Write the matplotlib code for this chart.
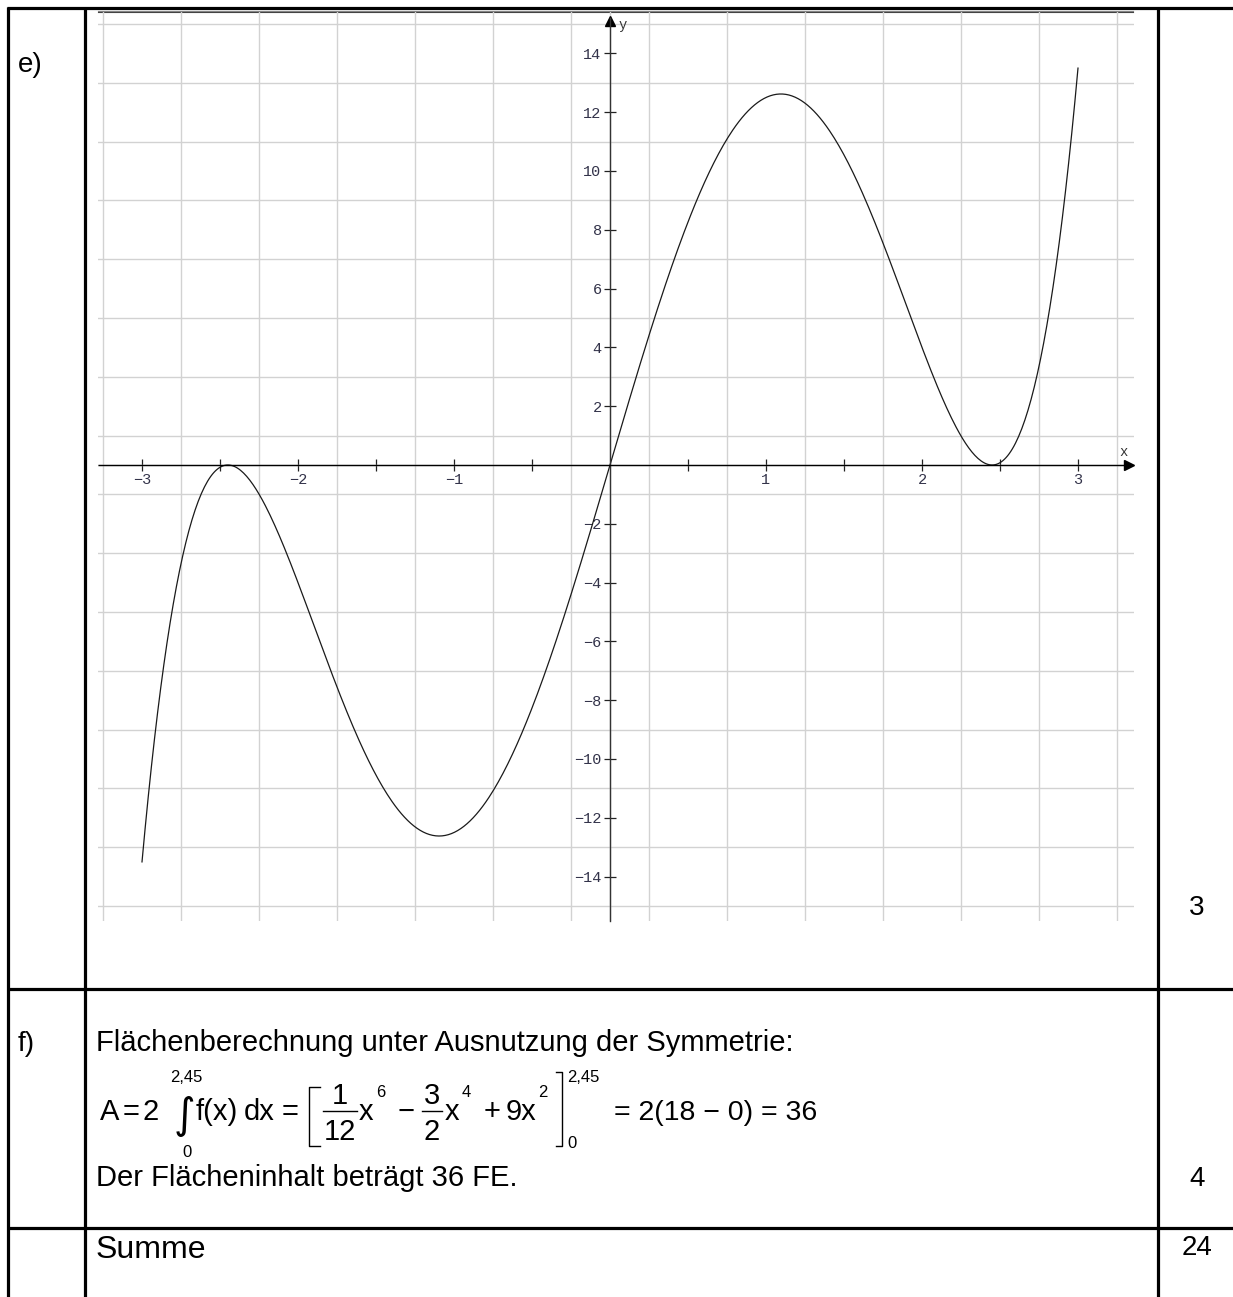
import numpy as np
import matplotlib.pyplot as plt
from matplotlib.ticker import FixedLocator, FuncFormatter

# f(x) = 1/2 x^5 - 6 x^3 + 18 x  (the derivative of the bracket shown in part f)
coeffs = [0.5, 0, -6, 0, 18, 0]
x_start, x_end = -3, 3
x_tick_vals = [-3, -2.5, -2, -1.5, -1, -0.5, 0.5, 1, 1.5, 2, 2.5, 3]
y_tick_vals = [-14, -12, -10, -8, -6, -4, -2, 2, 4, 6, 8, 10, 12, 14]
part_labels = ["e)", "f)"]
points = ["3", "4", "24"]

W, H = 1233, 1297
fig = plt.figure(figsize=(W / 100, H / 100), dpi=100)
plt.rcParams['font.family'] = ['Liberation Sans', 'DejaVu Sans']

# background axes in pixel coords for the table
bg = fig.add_axes([0, 0, 1, 1])
bg.set_xlim(0, W)
bg.set_ylim(H, 0)
bg.axis('off')

lw_tab = 2.3
for xv in [8, 85, 1158]:
    bg.plot([xv, xv], [7, H], color='black', lw=lw_tab, solid_capstyle='butt')
for yv in [8, 989, 1228]:
    bg.plot([7, W], [yv, yv], color='black', lw=lw_tab, solid_capstyle='butt')

# graph axes: x=0 at px 610 (156 px/unit), y=0 at px 465 (29.4 px/unit)
px_l, px_r, px_t, px_b = 98, 1134, 12, 920.7
ax = fig.add_axes([px_l / W, 1 - px_b / H, (px_r - px_l) / W, (px_b - px_t) / H])
ax.set_xlim((px_l - 610) / 156, (px_r - 610) / 156)
ax.set_ylim((465 - px_b) / 29.4, (465 - px_t) / 29.4)
ax.patch.set_alpha(0)

ax.xaxis.set_minor_locator(FixedLocator(np.arange(-3.25, 3.26, 0.25)))
ax.yaxis.set_minor_locator(FixedLocator(np.arange(-15, 16, 1)))
ax.grid(which='minor', color='#d2d2d2', lw=1.0)
ax.tick_params(which='minor', length=0)

for s in ['top', 'right']:
    ax.spines[s].set_visible(False)
ax.spines['left'].set_position(('data', 0))
ax.spines['bottom'].set_position(('data', 0))
ax.spines['left'].set_color('#333333')
ax.spines['left'].set_bounds(ax.get_ylim()[0], 15.2)
ax.spines['bottom'].set_bounds(ax.get_xlim()[0], 3.34)
ax.spines['bottom'].set_capstyle('butt')
ax.spines['left'].set_linewidth(1.0)
ax.spines['bottom'].set_linewidth(1.0)

ax.set_xticks(x_tick_vals)
ax.set_yticks(y_tick_vals)
ax.xaxis.set_major_formatter(FuncFormatter(
    lambda v, p: ('%d' % v).replace('-', '\u2212') if float(v).is_integer() else ''))
ax.yaxis.set_major_formatter(FuncFormatter(lambda v, p: ('%d' % v).replace('-', '\u2212')))
ax.tick_params(which='major', direction='inout', length=8, width=0.9, color='#222222',
               labelsize=11, labelcolor='#33334a', pad=2)
for lab in ax.get_xticklabels() + ax.get_yticklabels():
    lab.set_family('Liberation Mono')
    lab.set_bbox(dict(facecolor='white', edgecolor='none', pad=0.5))

ax.plot(3.33, 0, '>', color='black', ms=7, clip_on=False)
ax.plot(0, 15.1, '^', color='black', ms=7, clip_on=False)
ax.text(3.295, 0.44, 'x', family='Liberation Mono', fontsize=10, color='#333333',
        ha='center', va='center')
ax.text(0.08, 14.97, 'y', family='Liberation Mono', fontsize=10, color='#333333',
        ha='center', va='center')

# top double line of the graph frame
bg.plot([98, 1133], [10.5, 10.5], color='#888888', lw=0.8)
bg.plot([98, 1133], [12, 12], color='#444444', lw=0.8)

xs = np.linspace(x_start, x_end, 600)
ax.plot(xs, np.polyval(coeffs, xs), color='#1a1a1a', lw=0.9)

# table text
fs = 21
bg.text(18, 72, part_labels[0], fontsize=20, va='baseline')
bg.text(18, 1051, part_labels[1], fontsize=20, va='baseline')
bg.text(1197, 915, points[0], fontsize=20, ha='center', va='baseline')
bg.text(1197, 1186, points[1], fontsize=20, ha='center', va='baseline')
bg.text(1197, 1255, points[2], fontsize=20, ha='center', va='baseline')

bg.text(96, 1051, 'Fl\u00e4chenberechnung unter Ausnutzung der Symmetrie:', fontsize=fs, va='baseline')
bg.text(96, 1186, 'Der Fl\u00e4cheninhalt betr\u00e4gt 36 FE.', fontsize=fs, va='baseline')
bg.text(96, 1258, 'Summe', fontsize=23, va='baseline')

# formula line, pieces placed by pixel
base = 1120
num_base, bar_y, den_base, sup_base = 1104, 1111, 1140, 1097
small = 12
bg.text(100, base, 'A', fontsize=fs, va='baseline')
bg.text(123, base, '=', fontsize=fs, va='baseline')
bg.text(143, base, '2', fontsize=fs, va='baseline')
bg.text(184, base + 8, '\u222b', fontsize=30, ha='center', va='baseline', family='DejaVu Sans')
bg.text(186, 1082, '2,45', fontsize=small, ha='center', va='baseline')
bg.text(187, 1157, '0', fontsize=small, ha='center', va='baseline')
bg.text(196, base, 'f(x)', fontsize=fs, va='baseline')
bg.text(244, base, 'dx', fontsize=fs, va='baseline')
bg.text(282, base, '=', fontsize=fs, va='baseline')
# opening bracket
bg.plot([320, 309, 309, 320], [1087, 1087, 1146, 1146], color='black', lw=1.0)
bg.text(340, num_base, '1', fontsize=fs, ha='center', va='baseline')
bg.plot([323, 357], [bar_y, bar_y], color='black', lw=1.0)
bg.text(340, den_base, '12', fontsize=fs, ha='center', va='baseline')
bg.text(359, base, 'x', fontsize=fs, va='baseline')
bg.text(376, sup_base, '6', fontsize=small, va='baseline')
bg.text(398, base, '\u2212', fontsize=fs, va='baseline')
bg.text(432, num_base, '3', fontsize=fs, ha='center', va='baseline')
bg.plot([422, 442], [bar_y, bar_y], color='black', lw=1.0)
bg.text(432, den_base, '2', fontsize=fs, ha='center', va='baseline')
bg.text(445, base, 'x', fontsize=fs, va='baseline')
bg.text(462, sup_base, '4', fontsize=small, va='baseline')
bg.text(484, base, '+', fontsize=fs, va='baseline')
bg.text(506, base, '9x', fontsize=fs, va='baseline')
bg.text(538, sup_base, '2', fontsize=small, va='baseline')
# closing bracket
bg.plot([556, 562, 562, 556], [1072, 1072, 1146, 1146], color='black', lw=1.0)
bg.text(567, 1082, '2,45', fontsize=small, va='baseline')
bg.text(567, 1148, '0', fontsize=small, va='baseline')
bg.text(614, base, '= 2(18 \u2212 0) = 36', fontsize=20.5, va='baseline')

fig.savefig('out.png', dpi=100)
